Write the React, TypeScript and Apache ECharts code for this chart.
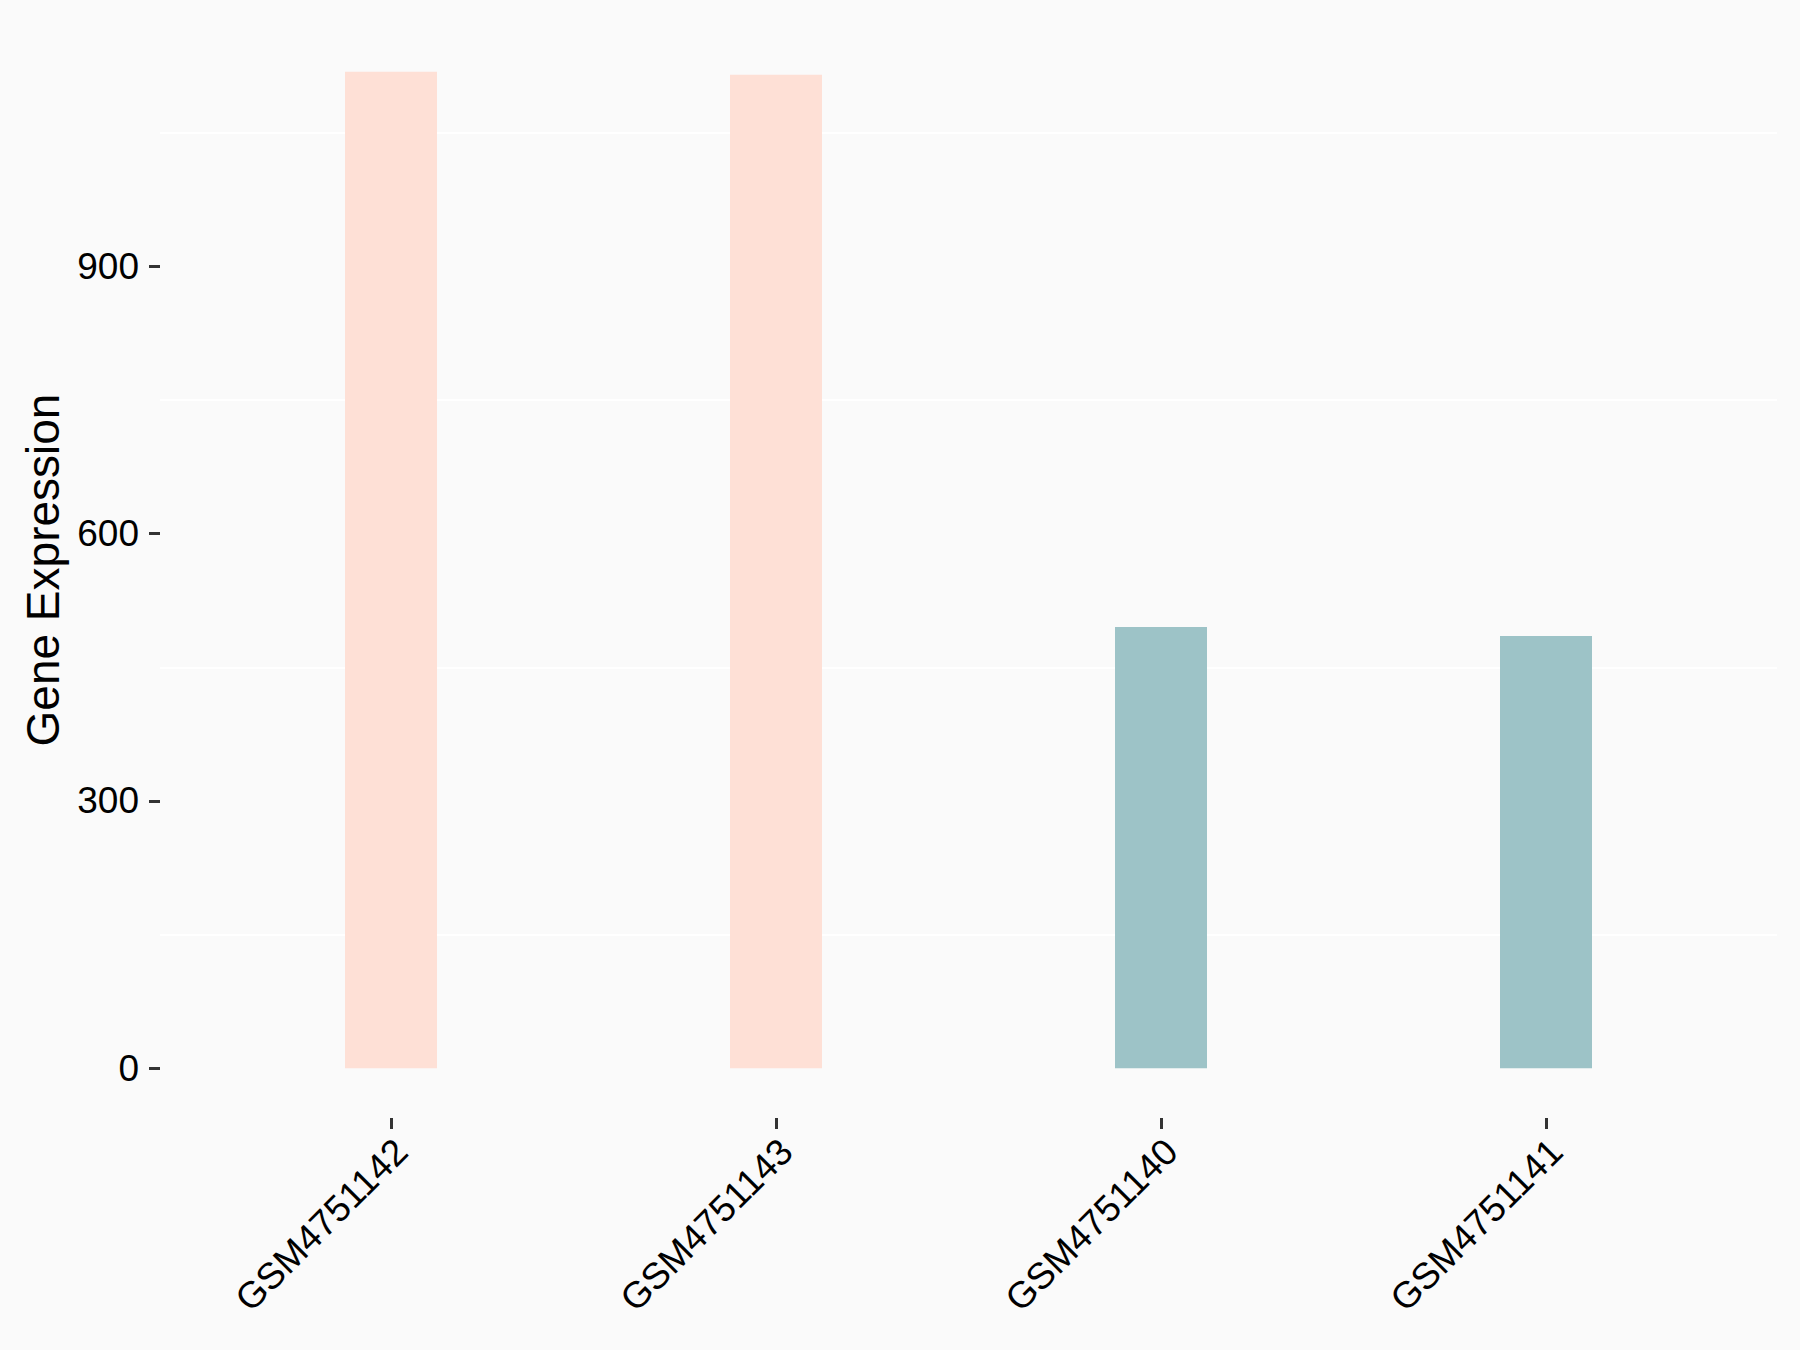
import React, { useEffect, useRef } from "react";
import * as echarts from "echarts";

const categories = ["GSM4751142", "GSM4751143", "GSM4751140", "GSM4751141"];
const values = [1118.6, 1115.2, 495.3, 485.2];
const barColors = ["#FEE0D6", "#FEE0D6", "#9DC3C7", "#9DC3C7"];
const yTicks = [0, 300, 600, 900];
const gridValues = [150, 450, 750, 1050];
const yMin = -55.93;
const yMax = 1174.53;

export default function App() {
  const ref = useRef<HTMLDivElement>(null);
  useEffect(() => {
    document.body.style.margin = "0";
    document.body.style.background = "#FAFAFA";
    const chart = echarts.init(ref.current!, null, { renderer: "svg" });
    const font = "'Liberation Sans', Arial, sans-serif";
    chart.setOption({
      animation: false,
      backgroundColor: "#FAFAFA",
      grid: [
        { left: 160, right: 23, top: 22, bottom: 232 },
        { left: 198.5, right: 61.5, top: 22, bottom: 232 },
      ],
      xAxis: [
        { type: "value", gridIndex: 0, min: 0, max: 1, show: false },
        {
          type: "category",
          gridIndex: 1,
          data: categories,
          axisLine: { show: false, onZero: false },
          axisTick: {
            show: true,
            alignWithLabel: true,
            length: 11,
            lineStyle: { color: "#333333", width: 3 },
          },
          axisLabel: {
            rotate: 45,
            margin: 17,
            align: "right",
            verticalAlign: "top",
            lineHeight: 29,
            fontSize: 37,
            color: "#000000",
            fontFamily: font,
          },
          splitLine: { show: false },
        },
      ],
      yAxis: [
        {
          type: "value",
          gridIndex: 0,
          min: yMin,
          max: yMax,
          name: "Gene Expression",
          nameLocation: "middle",
          nameRotate: 90,
          nameGap: 94,
          nameTextStyle: { fontSize: 46, color: "#000000", fontFamily: font },
          axisLine: { show: false },
          axisTick: {
            show: true,
            length: 11,
            customValues: yTicks,
            lineStyle: { color: "#333333", width: 3 },
          },
          axisLabel: {
            customValues: yTicks,
            margin: 21,
            fontSize: 37,
            color: "#000000",
            fontFamily: font,
          },
          splitLine: { show: false },
        },
        {
          type: "value",
          gridIndex: 1,
          min: yMin,
          max: yMax,
          show: false,
          splitLine: { show: false },
        },
      ],
      series: [
        {
          type: "line",
          xAxisIndex: 0,
          yAxisIndex: 0,
          data: [],
          silent: true,
          z: 0,
          markLine: {
            silent: true,
            symbol: "none",
            z: 0,
            label: { show: false },
            lineStyle: { color: "#FFFFFF", width: 2, type: "solid" },
            data: gridValues.map((v) => ({ yAxis: v })),
          },
        },
        {
          type: "bar",
          xAxisIndex: 1,
          yAxisIndex: 1,
          barWidth: 92,
          z: 5,
          data: values.map((v, i) => ({
            value: v,
            itemStyle: { color: barColors[i] },
          })),
        },
      ],
    });
    return () => chart.dispose();
  }, []);
  return <div ref={ref} style={{ width: 1800, height: 1350 }} />;
}
